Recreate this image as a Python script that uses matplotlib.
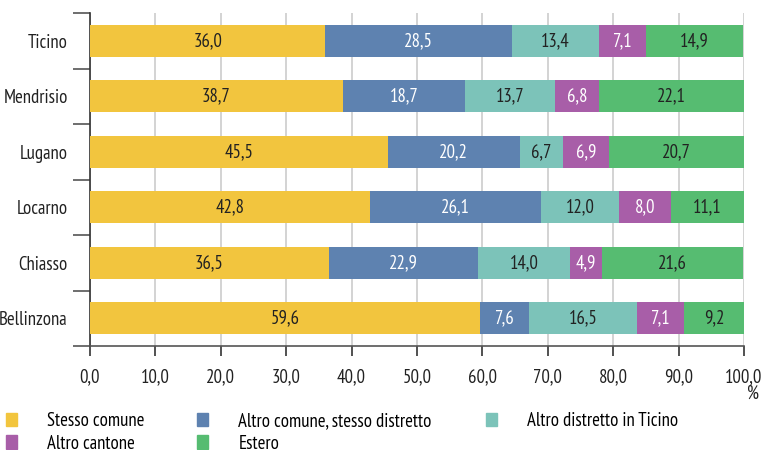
import numpy as np
import matplotlib
matplotlib.use("Agg")
import matplotlib.pyplot as plt
from matplotlib.patches import Patch

plt.rcParams['font.family'] = ['PT Sans Narrow', 'DejaVu Sans']

regioni = ["Ticino", "Mendrisio", "Lugano", "Locarno", "Chiasso", "Bellinzona"]
serie = ["Stesso comune", "Altro comune, stesso distretto", "Altro distretto in Ticino",
         "Altro cantone", "Estero"]
stesso_comune = [36.0, 38.7, 45.5, 42.8, 36.5, 59.6]
altro_comune = [28.5, 18.7, 20.2, 26.1, 22.9, 7.6]
altro_distretto = [13.4, 13.7, 6.7, 12.0, 14.0, 16.5]
altro_cantone = [7.1, 6.8, 6.9, 8.0, 4.9, 7.1]
estero = [14.9, 22.1, 20.7, 11.1, 21.6, 9.2]
xticks = np.arange(0, 101, 10)

colori = ["#F2C53E", "#5E82B0", "#7CC3B9", "#A85EA8", "#56BC71"]
col_testo = ["#222222", "white", "#222222", "white", "#222222"]

valori = [stesso_comune, altro_comune, altro_distretto, altro_cantone, estero]
fs = 13.5

fig = plt.figure(figsize=(7.62, 4.5), dpi=100)
ax = fig.add_axes([90/762, 1 - 346/450, 654/762, 333/450])

y = np.arange(len(regioni))[::-1]
left = np.zeros(len(regioni))
for vals, c, tc in zip(valori, colori, col_testo):
    vals = np.array(vals)
    ax.barh(y, vals, left=left, height=0.58, color=c, zorder=3)
    for yi, l, v in zip(y, left, vals):
        ax.text(l + v / 2, yi, f"{v:.1f}".replace(".", ","), ha="center", va="center",
                color=tc, fontsize=fs, zorder=4)
    left += vals

ax.set_xlim(0, 100)
ax.set_ylim(-0.5, len(regioni) - 0.5)
ax.set_xticks(xticks)
ax.set_xticklabels([f"{t:.1f}".replace(".", ",") for t in xticks], fontsize=fs, color="#222222")
ax.set_yticks(y)
ax.set_yticklabels(regioni, fontsize=fs, color="#222222")
ax.set_yticks(np.arange(-0.5, len(regioni), 1), minor=True)
ax.tick_params(axis="y", which="major", length=0, pad=16)
ax.tick_params(axis="y", which="minor", length=12, width=1.2, color="#555555")
ax.tick_params(axis="x", length=7, width=1.2, color="#333333", pad=9)
ax.grid(axis="x", color="#cccccc", linewidth=1.2, zorder=0)
for s in ["top", "right"]:
    ax.spines[s].set_visible(False)
ax.spines["left"].set_color("#333333")
ax.spines["left"].set_linewidth(1.2)
ax.spines["bottom"].set_color("#555555")
ax.spines["bottom"].set_linewidth(1.2)

fig.text(753/762, 1 - 394/450, "%", ha="center", va="center", fontsize=fs, color="#222222")

# legenda in tre colonne, riempita riga per riga
colonne = [[0, 3], [1, 4], [2]]
x_col = [6, 197, 486]
for idx, xc in zip(colonne, x_col):
    handles = [Patch(color=colori[i], label=serie[i]) for i in idx]
    fig.legend(handles=handles, loc="upper left", bbox_to_anchor=(xc/762, 1 - 412/450),
               frameon=False, fontsize=fs, handlelength=0.6, handleheight=0.75,
               handletextpad=1.6, labelspacing=0.25, borderaxespad=0, borderpad=0)

fig.savefig("out.png", dpi=100)
